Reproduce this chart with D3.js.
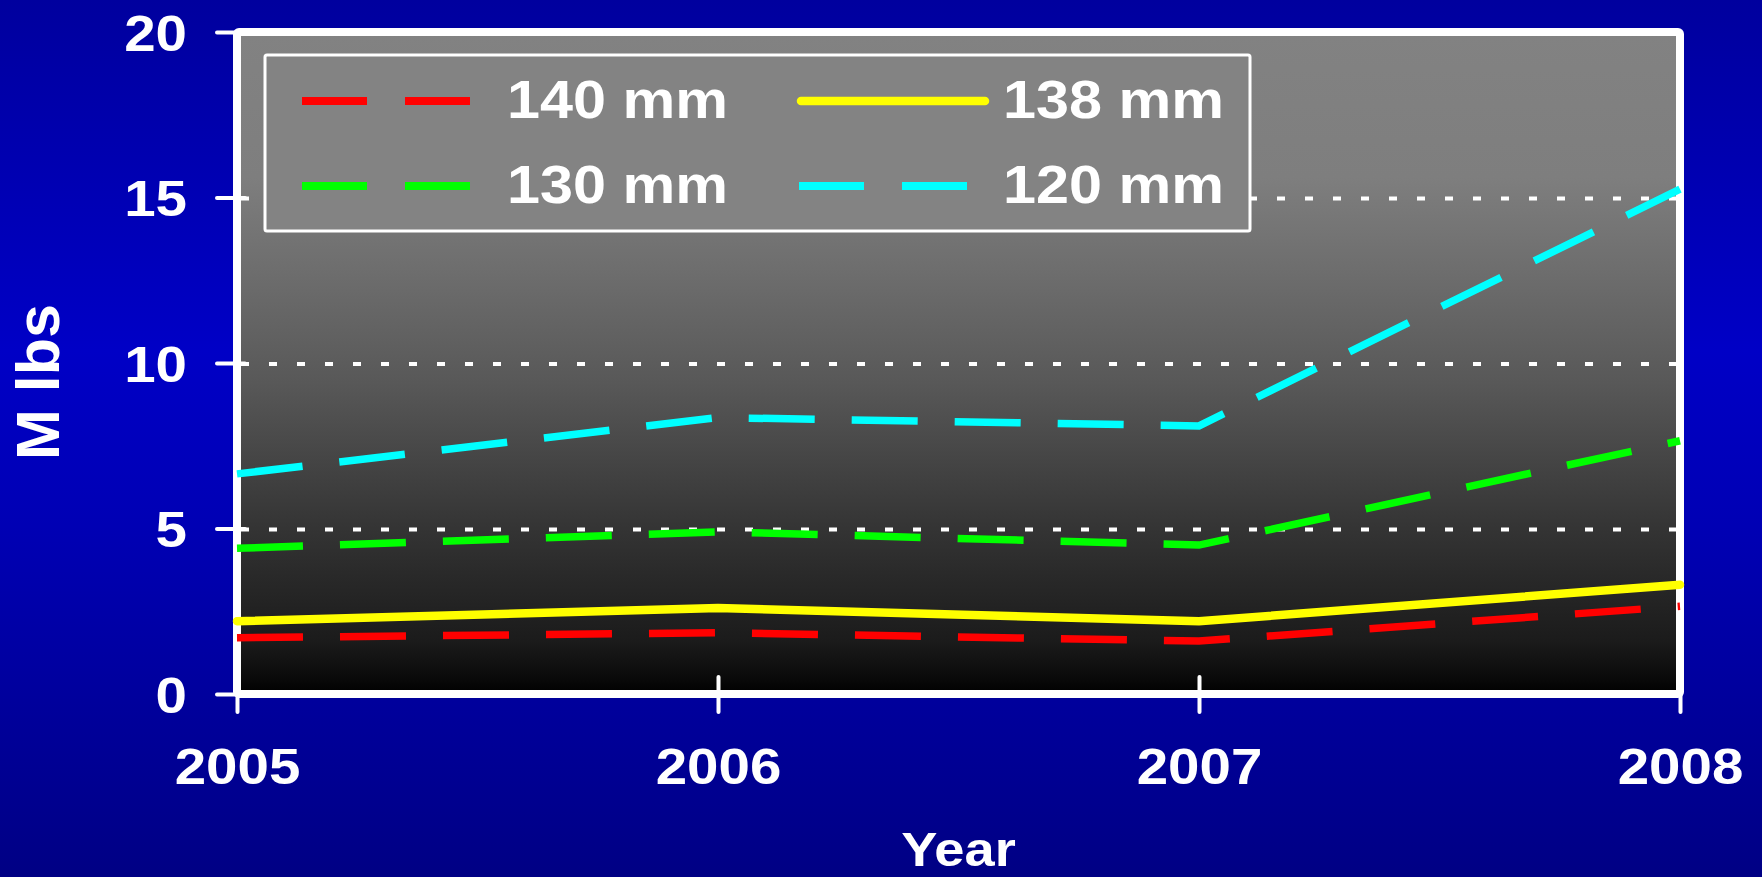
<!DOCTYPE html>
<html>
<head>
<meta charset="utf-8">
<script src="https://cdn.jsdelivr.net/npm/d3@7"></script>
<style>
  html, body { margin: 0; padding: 0; overflow: hidden; background: #0000a8; }
  svg { display: block; }
  text { font-family: "Liberation Sans", Arial, sans-serif; font-weight: bold; fill: #ffffff; }
</style>
</head>
<body>
<script>
// Annual landings by mesh size, million pounds
const years = ["2005", "2006", "2007", "2008"];
const mesh140 = [1.7, 1.85, 1.6, 2.65];
const mesh138 = [2.2, 2.6, 2.2, 3.3];
const mesh130 = [4.4, 4.9, 4.5, 7.65];
const mesh120 = [6.65, 8.35, 8.1, 15.25];
const yTicks = [0, 5, 10, 15, 20];
const gridValues = [5, 10, 15, 20];

const seriesNames = ["140 mm", "138 mm", "130 mm", "120 mm"];
const seriesValues = [mesh140, mesh138, mesh130, mesh120];

// drawing styles per series
const seriesStyle = [
  { color: "#ff0000", dashed: true,  width: 7.5 },
  { color: "#ffff00", dashed: false, width: 8.5 },
  { color: "#00ff00", dashed: true,  width: 7.5 },
  { color: "#00ffff", dashed: true,  width: 7.5 }
];

const W = 1762, H = 877;
const plot = { left: 237, right: 1680, top: 32, bottom: 694 };
const stretch = 1.13;

const svg = d3.select("body").append("svg").attr("width", W).attr("height", H);
const defs = svg.append("defs");

const bg = defs.append("linearGradient").attr("id", "bgFill")
  .attr("x1", 0).attr("y1", 0).attr("x2", 0).attr("y2", 1);
[[0, "#00009e"], [0.4, "#0000c6"], [0.6, "#0000b4"], [1, "#000084"]]
  .forEach(([o, c]) => bg.append("stop").attr("offset", o).attr("stop-color", c));

const pf = defs.append("linearGradient").attr("id", "plotFill")
  .attr("x1", 0).attr("y1", 0).attr("x2", 0).attr("y2", 1);
[[0, "#828282"], [0.22, "#7e7e7e"], [0.39, "#6a6a6a"], [0.53, "#585858"],
 [0.75, "#343434"], [0.83, "#282828"], [0.92, "#1b1b1b"], [0.97, "#0c0c0c"], [1, "#000000"]]
  .forEach(([o, c]) => pf.append("stop").attr("offset", o).attr("stop-color", c));

svg.append("rect").attr("width", W).attr("height", H).attr("fill", "url(#bgFill)");

const x = d3.scalePoint().domain(years).range([plot.left, plot.right]);
const y = d3.scaleLinear().domain([0, 20]).range([plot.bottom, plot.top]);

// plot area
svg.append("rect")
  .attr("x", x(years[0])).attr("y", y(20))
  .attr("width", x(years[years.length - 1]) - x(years[0]))
  .attr("height", y(0) - y(20))
  .attr("fill", "url(#plotFill)");

// dotted gridlines
svg.append("g").selectAll("line").data(gridValues).join("line")
  .attr("x1", x(years[0]) + 4).attr("x2", x(years[years.length - 1]) - 4)
  .attr("y1", d => y(d) + 1).attr("y2", d => y(d) + 1)
  .attr("stroke", "#ffffff").attr("stroke-width", 4)
  .attr("stroke-dasharray", "8,20");

// frame
svg.append("rect")
  .attr("x", x(years[0])).attr("y", y(20))
  .attr("width", x(years[years.length - 1]) - x(years[0]))
  .attr("height", y(0) - y(20))
  .attr("fill", "none").attr("stroke", "#ffffff").attr("stroke-width", 8)
  .attr("rx", 2);

// y axis
const yAxis = svg.append("g").attr("transform", `translate(${plot.left},0)`)
  .call(d3.axisLeft(y).tickValues(yTicks).tickSize(20).tickFormat(d3.format("d")));
yAxis.select(".domain").remove();
yAxis.selectAll(".tick line")
  .attr("x1", 8).attr("stroke", "#ffffff").attr("stroke-width", 4).attr("stroke-linecap", "round");
yAxis.selectAll(".tick text")
  .attr("x", -50 / stretch).attr("dy", null).attr("y", 18)
  .attr("transform", `scale(${stretch},1)`)
  .style("font-size", "50px").attr("fill", "#ffffff");
yAxis.attr("font-family", null).attr("font-size", null);

// x axis
const xAxis = svg.append("g").attr("transform", `translate(0,${plot.bottom})`)
  .call(d3.axisBottom(x).tickSize(18));
xAxis.select(".domain").remove();
xAxis.selectAll(".tick line")
  .attr("y1", -17).attr("stroke", "#ffffff").attr("stroke-width", 4).attr("stroke-linecap", "round");
xAxis.selectAll(".tick text")
  .attr("y", 90).attr("dy", null)
  .attr("transform", `scale(${stretch},1)`)
  .style("font-size", "50px").attr("fill", "#ffffff");
xAxis.attr("font-family", null).attr("font-size", null);

// series lines
const line = d3.line().x((d, i) => x(years[i])).y(d => y(d));
seriesValues.forEach((vals, i) => {
  const st = seriesStyle[i];
  svg.append("path").datum(vals)
    .attr("d", line)
    .attr("fill", "none")
    .attr("stroke", st.color)
    .attr("stroke-width", st.width)
    .attr("stroke-linecap", st.dashed ? "butt" : "round")
    .attr("stroke-linejoin", "miter")
    .attr("stroke-dasharray", st.dashed ? "66,37" : null);
});

// axis titles
svg.append("text")
  .attr("transform", "translate(59,382) rotate(-90)")
  .attr("text-anchor", "middle")
  .style("font-size", "61px")
  .text("M lbs");

svg.append("text")
  .attr("transform", `translate(${(plot.left + plot.right) / 2},866) scale(${stretch},1)`)
  .attr("text-anchor", "middle")
  .style("font-size", "48px")
  .text("Year");

// legend
const legend = svg.append("g");
legend.append("rect")
  .attr("x", 265).attr("y", 55).attr("width", 985).attr("height", 176)
  .attr("fill", "#838383").attr("stroke", "#ffffff").attr("stroke-width", 3).attr("rx", 2);

const legendCols = [{ x1: 302, x2: 470, tx: 507 }, { x1: 799, x2: 967, tx: 1003 }];
const legendRows = [101, 186];
seriesNames.forEach((name, i) => {
  const st = seriesStyle[i];
  const c = legendCols[i % 2];
  const ry = legendRows[Math.floor(i / 2)];
  legend.append("line")
    .attr("x1", st.dashed ? c.x1 : c.x1 + 2).attr("x2", st.dashed ? c.x2 : c.x2 + 18)
    .attr("y1", ry).attr("y2", ry)
    .attr("stroke", st.color)
    .attr("stroke-width", st.dashed ? 8 : 8.5)
    .attr("stroke-linecap", st.dashed ? "butt" : "round")
    .attr("stroke-dasharray", st.dashed ? "65,38" : null);
  legend.append("text")
    .attr("transform", `translate(${c.tx},${ry + 17}) scale(1.12,1)`)
    .style("font-size", "53px")
    .text(name);
});
</script>
</body>
</html>
